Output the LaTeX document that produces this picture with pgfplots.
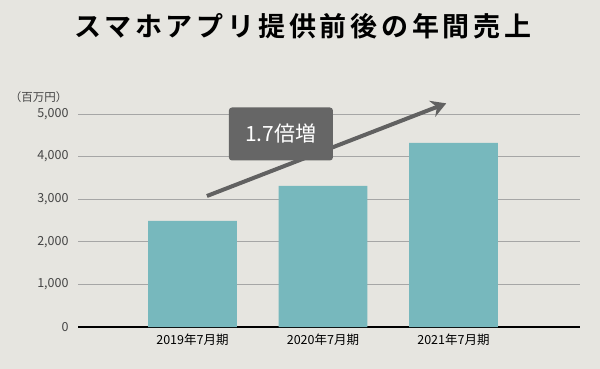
\documentclass[border=0pt]{standalone}
\usepackage{fontspec}
\setmainfont{Noto Sans CJK JP}
\newfontfamily\titlefont[LetterSpace=14]{Noto Sans CJK JP Bold}
\usepackage{pgfplots}
\pgfplotsset{compat=1.18}
\usetikzlibrary{arrows.meta}
\definecolor{bg}{HTML}{E6E5E0}
\definecolor{barc}{HTML}{77B8BD}
\definecolor{arrowc}{HTML}{616161}
\definecolor{boxc}{HTML}{666666}
\definecolor{tickc}{HTML}{444444}
\begin{document}
\begin{tikzpicture}
\fill[bg] (0,0) rectangle (600bp,369bp);
\useasboundingbox (0,0) rectangle (600bp,369bp);
\node[font=\titlefont\fontsize{27bp}{30bp}\selectfont, text=black] at (303bp,343bp) {スマホアプリ提供前後の年間売上};
\node[font=\fontsize{11.5bp}{13bp}\selectfont, text=tickc, anchor=south east] at (71bp,263bp) {（百万円）};
\begin{axis}[
  at={(78bp,42bp)}, anchor=south west,
  scale only axis, width=502bp, height=213bp,
  xmin=-0.877, xmax=2.97, ymin=0, ymax=5000,
  clip=false,
  axis x line*=bottom, axis y line*=left,
  x axis line style={line width=1.6bp, black, -},
  y axis line style={draw=none},
  ymajorgrids, grid style={line width=0.7bp, gray!70},
  ytick={0,1000,2000,3000,4000,5000},
  yticklabels={0,{1,000},{2,000},{3,000},{4,000},{5,000}},
  xtick={0,1,2},
  xticklabels={2019年7月期,2020年7月期,2021年7月期},
  major tick length=0,
  ticklabel style={font=\fontsize{12.5bp}{14bp}\selectfont},
  yticklabel style={text=tickc, xshift=-6bp},
  xticklabel style={text=black, yshift=-3bp},
  /pgf/number format/assume math mode=true,
]
\addplot[ybar, bar width=0.68, fill=barc, draw=none] coordinates {(0,2490) (1,3310) (2,4320)};
\draw[arrowc, line width=4bp, -{Stealth[length=15bp,width=17bp,inset=5bp]}] (axis cs:0.111,3075) -- (axis cs:1.945,5250);
\node[fill=boxc, rounded corners=3bp, text=white, minimum width=104bp, minimum height=53bp, font=\fontsize{21bp}{24bp}\selectfont] at (axis cs:0.678,4531) {1.7倍増};
\end{axis}
\end{tikzpicture}
\end{document}
